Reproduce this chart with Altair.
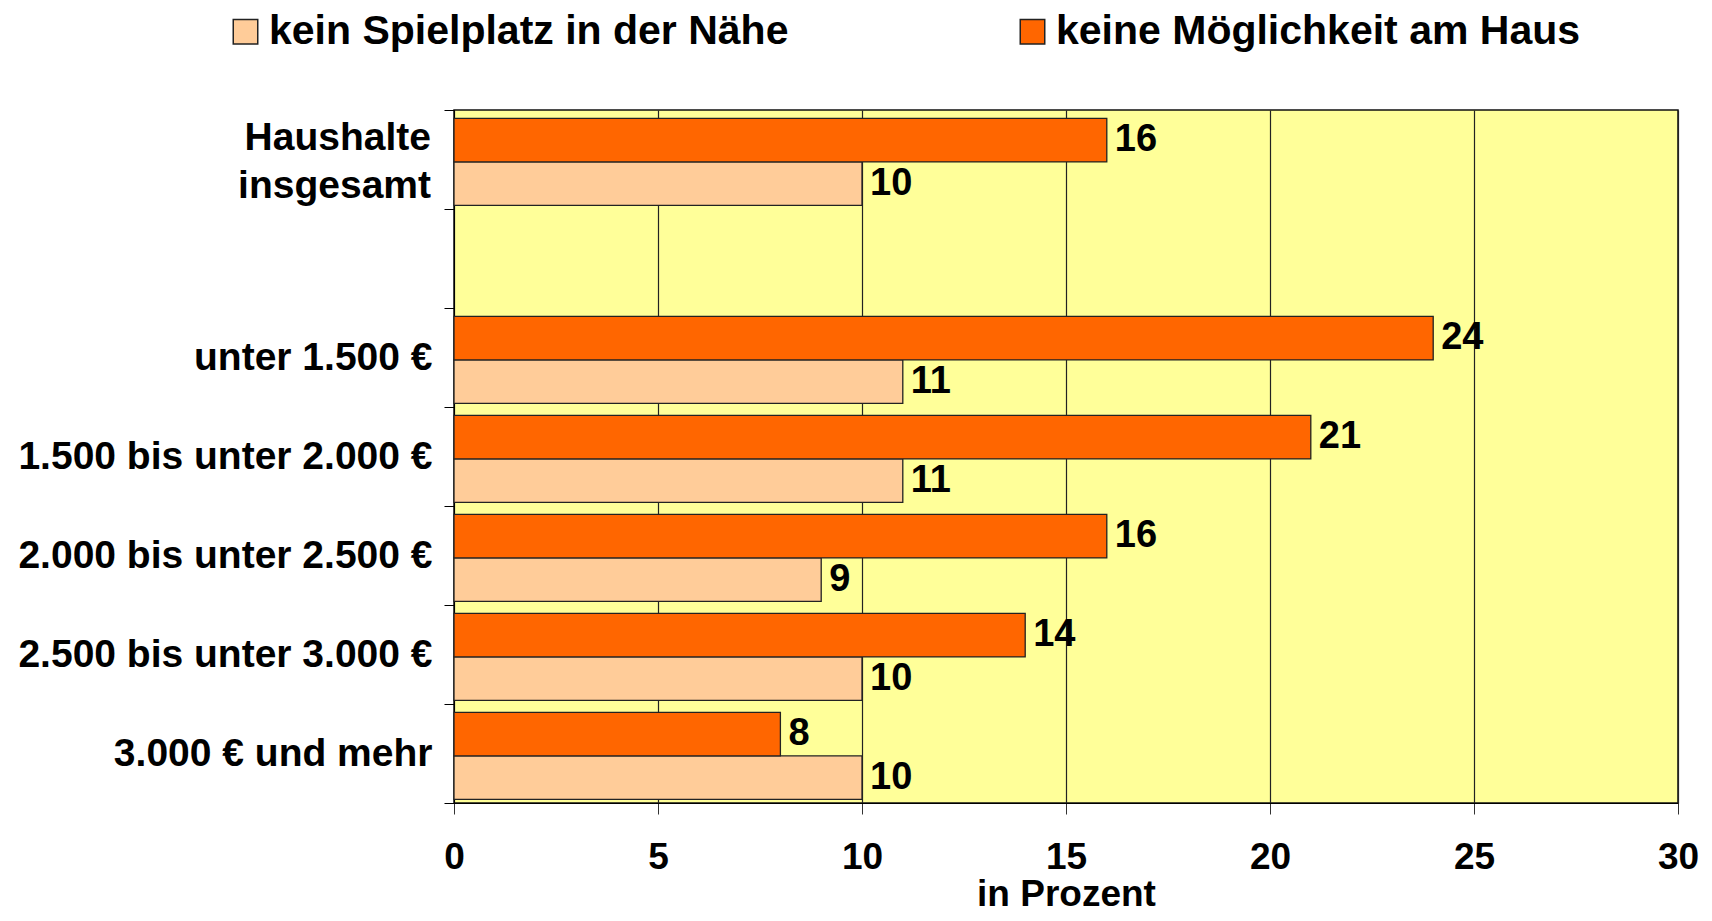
import altair as alt
import pandas as pd

categories = ["Haushalte|insgesamt", " ", "unter 1.500 €", "1.500 bis unter 2.000 €",
              "2.000 bis unter 2.500 €", "2.500 bis unter 3.000 €", "3.000 € und mehr"]
series_names = ["kein Spielplatz in der Nähe", "keine Möglichkeit am Haus"]
kein_spielplatz = [10, None, 11, 11, 9, 10, 10]
keine_moeglichkeit = [16, None, 24, 21, 16, 14, 8]
x_ticks = [0, 5, 10, 15, 20, 25, 30]
colors = ["#FFCC99", "#FF6600"]

rows = []
for cat, a, b in zip(categories, kein_spielplatz, keine_moeglichkeit):
    if a is not None:
        rows.append({"cat": cat, "series": series_names[0], "value": a})
    if b is not None:
        rows.append({"cat": cat, "series": series_names[1], "value": b})
df = pd.DataFrame(rows)
two_line = pd.DataFrame({"cat": [categories[0]], "label": [categories[0]]})

FONT = "Liberation Sans"

y_enc = alt.Y("cat:N", scale=alt.Scale(domain=categories, paddingInner=0, paddingOuter=0),
              axis=alt.Axis(title=None,
                            labelExpr="indexof(datum.label, '|') >= 0 ? '' : datum.label",
                            tickBand="extent",
                            labelFontSize=39, labelFont=FONT, labelFontWeight="bold",
                            labelColor="#000", labelPadding=12, tickSize=10, tickColor="#000",
                            domainColor="#000", labelLimit=0, grid=False))
yoff = alt.YOffset("series:N", sort=[series_names[1], series_names[0]],
                   scale=alt.Scale(paddingInner=0, paddingOuter=0.138, align=0.7))
x_enc = alt.X("value:Q", scale=alt.Scale(domain=[0, 30], nice=False),
              axis=alt.Axis(title="in Prozent", values=x_ticks, format="d", labelFlush=False,
                            labelFontSize=37, labelFont=FONT, labelFontWeight="bold",
                            labelColor="#000", labelPadding=25, tickSize=11, tickColor="#333",
                            domainColor="#000", gridColor="#222", gridWidth=1.2,
                            titleFontSize=37, titleFont=FONT, titleFontWeight="bold",
                            titleColor="#000", titlePadding=1))

bars = alt.Chart(df).mark_bar(stroke="#222", strokeWidth=1.3).encode(
    y=y_enc, yOffset=yoff, x=x_enc,
    color=alt.Color("series:N", scale=alt.Scale(domain=series_names, range=colors),
                    legend=alt.Legend(title=None, orient="none", direction="horizontal",
                                      legendX=-229, legendY=-99, padding=0,
                                      symbolType="square", symbolSize=600,
                                      symbolStrokeColor="#222", symbolStrokeWidth=1.5,
                                      labelFontSize=41, labelFont=FONT, labelFontWeight="bold",
                                      labelColor="#000", labelOffset=3, columnPadding=223,
                                      labelLimit=0)),
)
labels = alt.Chart(df).mark_text(align="left", baseline="middle", dx=8, font=FONT, fontSize=38,
                                 fontWeight="bold", color="#000").encode(
    y=alt.Y("cat:N", scale=alt.Scale(domain=categories)), yOffset=yoff,
    x=alt.X("value:Q"), text=alt.Text("value:Q", format="d"))

cat_label = alt.Chart(two_line).mark_text(align="right", baseline="middle", dy=-22,
                                          lineBreak="|", lineHeight=48, font=FONT,
                                          fontSize=39, fontWeight="bold", color="#000").encode(
    y=alt.Y("cat:N", scale=alt.Scale(domain=categories)),
    x=alt.value(-23), text="label:N")

chart = alt.layer(bars, labels, cat_label).properties(
    width=1224, height=693,
    background="white",
    autosize=alt.AutoSizeParams(type="none"),
    padding={"left": 446, "top": 102, "right": 26, "bottom": 110},
).configure_view(fill="#FFFF99", stroke="#111", strokeWidth=1.5)

chart.save("out.html", embed_options={"renderer": "svg", "actions": False})
